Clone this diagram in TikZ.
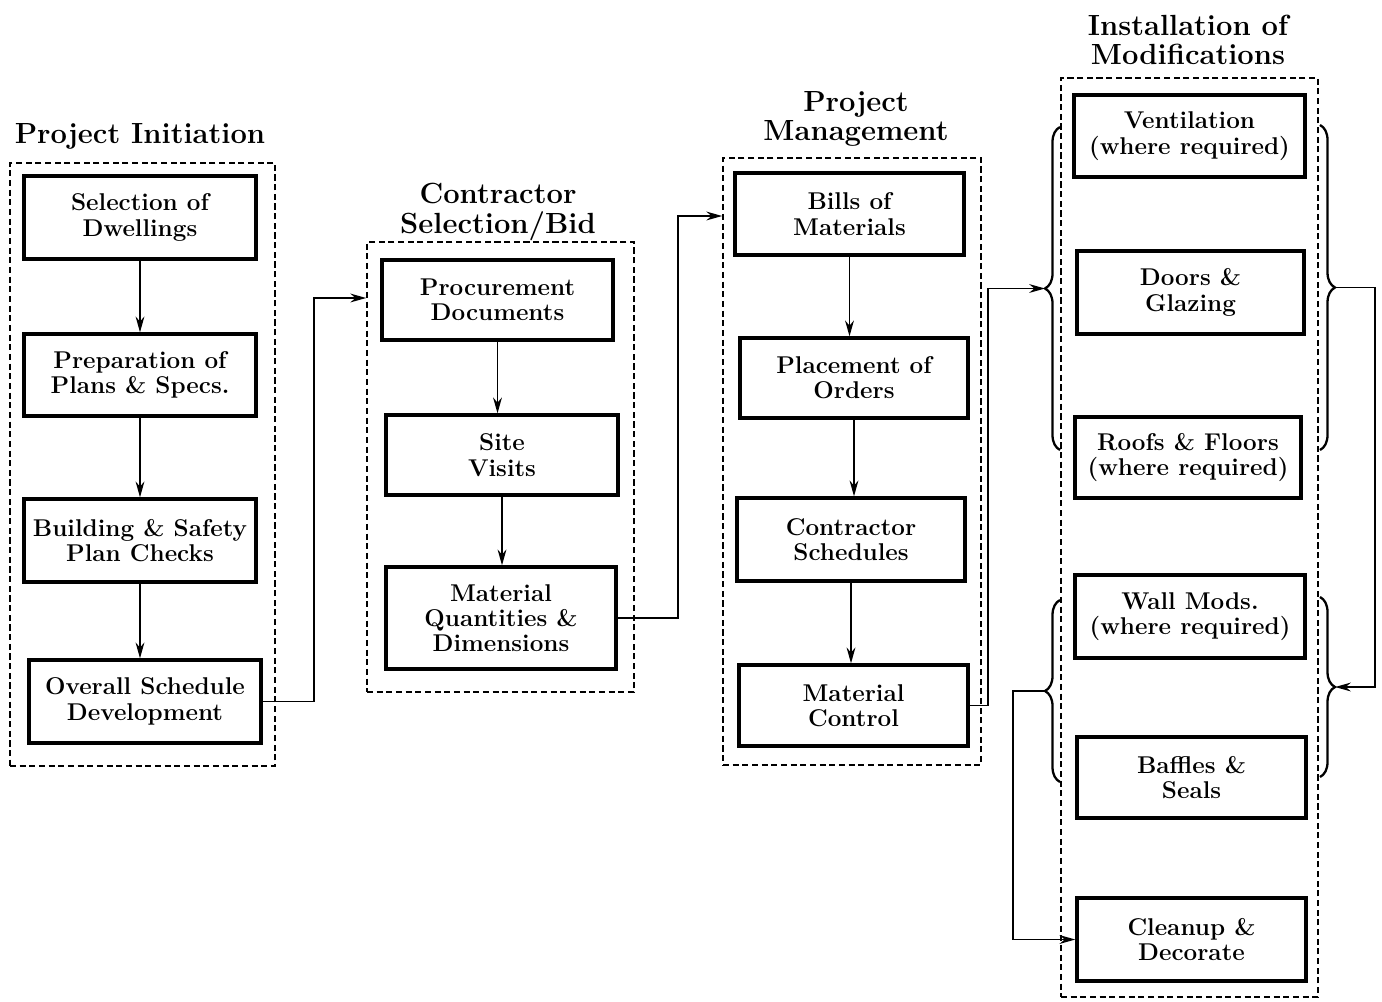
\documentclass[tikz,border=0pt]{standalone}
\usetikzlibrary{arrows.meta,decorations.pathreplacing,calc}
\begin{document}
\begin{tikzpicture}[x=0.02cm,y=-0.02cm,
  box/.style={draw, line width=1.9pt, align=center, inner sep=0pt,
    font=\fontsize{13.8}{14.4}\selectfont\bfseries},
  grp/.style={draw, dashed, dash pattern=on 3.5pt off 2pt, line width=0.9pt, inner sep=0pt},
  ttl/.style={align=center, font=\fontsize{16.6}{16.8}\selectfont\bfseries},
  arr/.style={line width=1.1pt, -{Stealth[length=9pt,width=5pt]}},
  brc/.style={line width=1.3pt, decorate, decoration={brace, amplitude=0.3cm}}]
\useasboundingbox (0,0) rectangle (1382,1001);
\newcommand\mybox[6]{\node[box, minimum width={#4*0.02cm}, minimum height={#5*0.02cm}] (#1) at (#2,#3) {#6};}
\newcommand\mygrp[5]{\node[grp, minimum width={#4*0.02cm}, minimum height={#5*0.02cm}] (#1) at (#2,#3) {};}
% groups
\mygrp{g1}{142.5}{464.5}{265}{603}
\mygrp{g2}{500.5}{467}{267}{450}
\mygrp{g3}{852}{461.5}{258}{607}
\mygrp{g4}{1189.5}{537.5}{257}{919}
% titles
\node[ttl] (t1) at (140,136) {Project Initiation};
\node[ttl] (t2) at (498,212) {Contractor\\Selection/Bid};
\node[ttl] (t3) at (856,119) {Project\\Management};
\node[ttl] (t4) at (1188,40) {Installation of\\Modifications};
% group 1
\mybox{sel}{140}{217.5}{232}{83}{Selection of\\Dwellings}
\mybox{prep}{140}{375}{232}{82}{Preparation of\\Plans \& Specs.}
\mybox{build}{140}{540.5}{232}{83}{Building \& Safety\\Plan Checks}
\mybox{over}{145}{701.5}{232}{83}{Overall Schedule\\Development}
% group 2
\mybox{proc}{497.5}{300}{231}{80}{Procurement\\Documents}
\mybox{site}{502}{455}{232}{80}{Site\\Visits}
\mybox{matq}{501}{618}{230}{102}{Material\\Quantities \&\\Dimensions}
% group 3
\mybox{bills}{849.5}{214}{229}{82}{Bills of\\Materials}
\mybox{place}{854}{378}{228}{80}{Placement of\\Orders}
\mybox{csched}{851}{539.5}{228}{83}{Contractor\\Schedules}
\mybox{mctrl}{853.5}{705.5}{229}{81}{Material\\Control}
% group 4
\mybox{vent}{1189.5}{136}{231}{82}{Ventilation\\(where required)}
\mybox{doors}{1190.5}{292.5}{227}{83}{Doors \&\\Glazing}
\mybox{roofs}{1188}{457.5}{226}{81}{Roofs \& Floors\\(where required)}
\mybox{wall}{1190}{616.5}{230}{83}{Wall Mods.\\(where required)}
\mybox{baffles}{1191.5}{777.5}{229}{81}{Baffles \&\\Seals}
\mybox{clean}{1191.5}{939.5}{229}{83}{Cleanup \&\\Decorate}
% vertical arrows
\draw[arr] (sel.south) -- (sel.south |- prep.north);
\draw[arr] (prep.south) -- (prep.south |- build.north);
\draw[arr] (build.south) -- (build.south |- over.north);
\draw[arr] (proc.south) -- (proc.south |- site.north);
\draw[arr] (site.south) -- (site.south |- matq.north);
\draw[arr] (bills.south) -- (bills.south |- place.north);
\draw[arr] (place.south) -- (place.south |- csched.north);
\draw[arr] (csched.south) -- (csched.south |- mctrl.north);
% braces
\draw[brc] (1060,450) -- (1060,127);
\draw[brc] (1320,125) -- (1320,450);
\draw[brc] (1320,597) -- (1320,777);
\draw[brc] (1060,782) -- (1060,600);
\coordinate (lb1) at (1045,288.5);
\coordinate (rb1) at (1335,287.5);
\coordinate (rb2) at (1335,687);
\coordinate (lb2) at (1045,691);
% inter-group connectors
\coordinate (k1) at (314,298);
\draw[arr] (over.east) -| (k1) -- (k1 -| g2.west);
\coordinate (k2) at (678,216);
\draw[arr] (matq.east) -| (k2) -- (k2 -| g3.west);
\coordinate (k3) at (988,288.5);
\draw[arr] (mctrl.east) -| (k3) -- (lb1);
\coordinate (k4) at (1375,287.5);
\draw[arr] (rb1) -- (k4) |- (rb2);
\coordinate (k5) at (1013,691);
\draw[arr] (lb2) -- (k5) |- (clean.west);
\end{tikzpicture}
\end{document}
